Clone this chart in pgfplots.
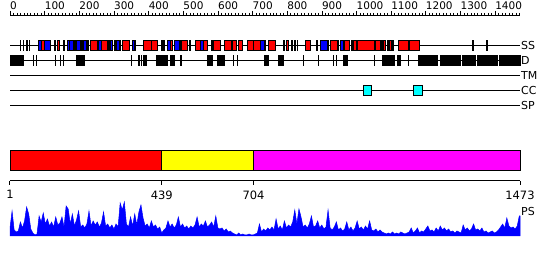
\documentclass[border=0pt]{standalone}
\usepackage{pgfplots}
\pgfplotsset{compat=1.18}
\usepackage{fontspec}
\setmainfont{DejaVu Sans}
\definecolor{ssred}{RGB}{255,0,0}
\definecolor{ssblue}{RGB}{0,0,255}
\definecolor{domyellow}{RGB}{255,255,0}
\definecolor{dommag}{RGB}{255,0,255}
\definecolor{cccyan}{RGB}{0,255,255}
% #1 fill colour, #2 y top, #3 y bottom, #4/#5 start/end residue
\def\boxplot#1#2#3#4/#5\relax{\addplot[draw=black, line width=0.9pt, fill=#1] coordinates {(#4,#2) (#5,#2) (#5,#3) (#4,#3)} -- cycle;}
\begin{document}
\begin{tikzpicture}
% ---------------- main track axis (x = residue, y = pixel row) ----------------
\begin{axis}[at={(0pt,0pt)}, anchor=south west, scale only axis,
  width=550pt, height=260pt,
  xmin=-27.863, xmax=1559.59, ymin=0, ymax=260, y dir=reverse,
  hide axis, clip=false]
\addplot[draw=none] coordinates {(-27.863,0) (1559.59,260)};
% track lines
\pgfplotsinvokeforeach{45,60,75,90,105}{\addplot[black, line width=1pt] coordinates {(1,#1) (1473,#1)};}
% SS: helices (red)
\pgfplotsinvokeforeach{93/99,138/144,232/252,264/281,327/347,385/408,408/428,443/448,463/471,497/512,535/552,558/572,587/607,621/639,642/656,659/671,685/705,705/725,748/766,798/806,855/867,925/945,965/982,991/1000,1005/1052,1057/1069,1080/1086,1095/1101,1121/1150,1153/1184}{\boxplot{ssred}{40}{50}#1\relax}
% SS: strands (blue)
\pgfplotsinvokeforeach{82/93,101/119,166/174,174/183,194/203,212/223,255/264,290/298,307/316,353/359,454/463,477/489,552/558,639/642,725/734,896/916,956/962,1052/1057}{\boxplot{ssblue}{40}{50}#1\relax}
% SS: very short elements (black)
\pgfplotsinvokeforeach{30/32,39/41,48/50,56/58,130/132,156/158,188/190,208/210,225/227,286/288,302/304,319/321,362/364,439/441,491/493,519/521,583/585,737/739,791/793,814/816,823/825,830/832,886/888,919/921,948/950,986/988,1074/1076,1091/1093,1105/1107,1336/1338,1377/1379}{\boxplot{black}{40}{50}#1\relax}
% D: disordered regions
\pgfplotsinvokeforeach{1/39,194/215,385/396,425/454,463/477,572/584,601/621,734/748,780/789,962/974,1075/1112,1118/1127,1179/1236,1242/1300,1306/1343,1349/1409,1415/1473}{\boxplot{black}{55}{65}#1\relax}
\pgfplotsinvokeforeach{68/68.5,76/76.5,131/131.5,146/146.5,155/155.5,351/351.5,373/373.5,379/379.5,494/494.5,645/645.5,657/657.5,775/775.5,848/848.5,891/891.5,934/934.5,943/943.5,1052/1052.5,1150/1150.5}{\boxplot{black}{55}{65}#1\relax}
% CC: coiled coils
\pgfplotsinvokeforeach{1021/1044,1165/1191}{\boxplot{cccyan}{85}{95}#1\relax}
% domain bar
\boxplot{ssred}{150}{170}1/439\relax
\boxplot{domyellow}{150}{170}439/704\relax
\boxplot{dommag}{150}{170}704/1473\relax
% track labels
\begin{scope}[every node/.style={anchor=west, inner sep=0pt, font=\fontsize{11}{13}\selectfont}]
\node at (axis cs:1476,45) {SS};
\node at (axis cs:1476,60) {D};
\node at (axis cs:1476,75) {TM};
\node at (axis cs:1476,90) {CC};
\node at (axis cs:1476,105) {SP};
\node at (axis cs:1476,211) {PS};
\end{scope}
\end{axis}
% ---------------- top ruler ----------------
\begin{axis}[at={(10pt,244pt)}, anchor=north west, scale only axis,
  width=510pt, height=5pt, xmin=0, xmax=1472, ymin=0, ymax=1,
  axis x line=top, axis y line=none,
  x axis line style={-, line width=1pt},
  xtick={0,100,...,1400}, minor xtick={0,10,...,1470},
  xtick align=outside, major tick length=5pt, minor tick length=3pt,
  tick style={black, line width=0.6pt},
  xticklabel style={anchor=south west, inner xsep=0pt, inner ysep=1pt, font=\fontsize{10.5}{12}\selectfont},
  /pgf/number format/assume math mode=true, /pgf/number format/1000 sep={}]
\addplot[draw=none] coordinates {(0,0)};
\end{axis}
% ---------------- bottom position axis ----------------
\begin{axis}[at={(10pt,79pt)}, anchor=south west, scale only axis,
  width=510pt, height=5pt, xmin=1, xmax=1473, ymin=0, ymax=1,
  axis x line=bottom, axis y line=none,
  x axis line style={-, line width=1pt},
  xtick={1,439,704,1473},
  xtick align=outside, major tick length=4pt,
  tick style={black, line width=1pt},
  xticklabel style={font=\fontsize{11.5}{13}\selectfont, yshift=-2pt},
  /pgf/number format/assume math mode=true, /pgf/number format/1000 sep={}]
\addplot[draw=none] coordinates {(1,0)};
\end{axis}
% ---------------- PS profile ----------------
\begin{axis}[at={(10pt,24pt)}, anchor=south west, scale only axis,
  width=510pt, height=34pt, xmin=1, xmax=1473, ymin=0, ymax=34,
  hide axis, clip=false]
\addplot[draw=ssblue, fill=ssblue, line width=0.5pt] table[row sep=\\] {
r h\\
1 8\\ 7 25\\ 13 6\\ 19 4\\ 25 5\\ 31 14\\ 37 8\\ 43 15\\ 49 29\\ 55 22\\
61 7\\ 67 3\\ 73 1\\ 79 2\\ 85 20\\ 91 14\\ 97 23\\ 103 12\\ 109 17\\ 115 10\\
121 14\\ 127 9\\ 133 19\\ 139 11\\ 145 13\\ 151 19\\ 157 9\\ 163 30\\ 169 27\\ 175 12\\
181 22\\ 187 10\\ 193 16\\ 199 25\\ 205 9\\ 211 11\\ 217 8\\ 223 12\\ 229 25\\ 235 10\\
241 15\\ 247 11\\ 253 14\\ 259 9\\ 265 13\\ 271 24\\ 277 10\\ 283 12\\ 289 8\\ 295 11\\
301 7\\ 307 12\\ 313 9\\ 319 33\\ 325 26\\ 331 34\\ 337 12\\ 343 9\\ 349 19\\ 355 10\\
361 22\\ 367 11\\ 373 24\\ 379 31\\ 385 18\\ 391 10\\ 397 12\\ 403 8\\ 409 15\\ 415 9\\
421 11\\ 427 7\\ 433 9\\ 439 3\\ 445 6\\ 451 8\\ 457 15\\ 463 9\\ 469 12\\ 475 8\\
481 11\\ 487 19\\ 493 9\\ 499 12\\ 505 8\\ 511 10\\ 517 7\\ 523 10\\ 529 8\\ 535 11\\
541 19\\ 547 9\\ 553 12\\ 559 10\\ 565 15\\ 571 9\\ 577 11\\ 583 14\\ 589 9\\ 595 20\\
601 8\\ 607 7\\ 613 8\\ 619 5\\ 625 7\\ 631 4\\ 637 5\\ 643 3\\ 649 2\\ 655 1\\
661 3\\ 667 1\\ 673 2\\ 679 1\\ 685 1\\ 691 2\\ 697 1\\ 703 1\\ 709 2\\ 715 3\\
721 12\\ 727 4\\ 733 7\\ 739 5\\ 745 8\\ 751 6\\ 757 9\\ 763 6\\ 769 17\\ 775 7\\
781 10\\ 787 6\\ 793 15\\ 799 8\\ 805 11\\ 811 9\\ 817 14\\ 823 26\\ 829 12\\ 835 27\\
841 19\\ 847 9\\ 853 11\\ 859 8\\ 865 12\\ 871 20\\ 877 9\\ 883 10\\ 889 15\\ 895 8\\
901 11\\ 907 7\\ 913 9\\ 919 26\\ 925 8\\ 931 6\\ 937 9\\ 943 14\\ 949 6\\ 955 8\\
961 5\\ 967 7\\ 973 14\\ 979 6\\ 985 9\\ 991 5\\ 997 8\\ 1003 15\\ 1009 7\\ 1015 9\\
1021 6\\ 1027 10\\ 1033 7\\ 1039 15\\ 1045 6\\ 1051 5\\ 1057 7\\ 1063 4\\ 1069 6\\ 1075 4\\
1081 3\\ 1087 2\\ 1093 3\\ 1099 2\\ 1105 4\\ 1111 2\\ 1117 3\\ 1123 2\\ 1129 4\\ 1135 3\\
1141 2\\ 1147 3\\ 1153 4\\ 1159 8\\ 1165 3\\ 1171 5\\ 1177 8\\ 1183 3\\ 1189 5\\ 1195 4\\
1201 7\\ 1207 10\\ 1213 5\\ 1219 6\\ 1225 4\\ 1231 8\\ 1237 5\\ 1243 10\\ 1249 6\\ 1255 8\\
1261 5\\ 1267 7\\ 1273 4\\ 1279 5\\ 1285 3\\ 1291 5\\ 1297 4\\ 1303 3\\ 1309 11\\ 1315 6\\
1321 8\\ 1327 5\\ 1333 7\\ 1339 12\\ 1345 6\\ 1351 7\\ 1357 5\\ 1363 8\\ 1369 4\\ 1375 5\\
1381 3\\ 1387 4\\ 1393 5\\ 1399 3\\ 1405 4\\ 1411 6\\ 1417 9\\ 1423 12\\ 1429 8\\ 1435 18\\
1441 10\\ 1447 8\\ 1453 9\\ 1459 7\\ 1465 10\\ 1471 20\\ 1473 20\\
} \closedcycle;
\end{axis}
\end{tikzpicture}
\end{document}
